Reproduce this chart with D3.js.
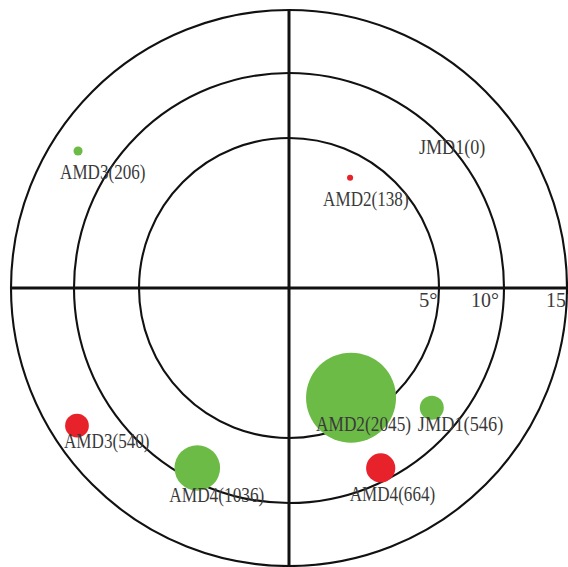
<!DOCTYPE html>
<html>
<head>
<meta charset="utf-8">
<script src="https://cdn.jsdelivr.net/npm/d3@7"></script>
<style>
html,body{margin:0;padding:0;background:#fff;}
svg{display:block;}
</style>
</head>
<body>
<svg id="chart" width="568" height="567"></svg>
<script>
// ---- data ----
const names    = ["AMD3","AMD2","JMD1","AMD2","JMD1","AMD3","AMD4","AMD4"];
const counts   = [206, 138, 0, 2045, 546, 540, 1036, 664];
const azimuths = [303, 29, 43, 150.5, 130, 237, 207, 153];   // degrees clockwise from north
const tilts    = [12.9, 4.2, 10.5, 4.2, 7.8, 13.0, 9.0, 9.0]; // degrees
const groups   = ["g","r","r","g","g","r","g","r"];
const ringTicks = [5, 10, 15];
const tickLabels = ["5°", "10°", "15°"];

// ---- layout (not data) ----
const labelDx = [-18, -27, -21, -35, -14, -13, -28, -31];
const labelDy = [28, 28, 28, 33, 23, 22, 34, 33];
const tickDx = [-20, -33, -21];

const cx = 289, cy = 288;
const svg = d3.select("#chart");
const g = svg.append("g").attr("transform", `translate(${cx},${cy})`);

const rScale = d3.scaleLinear().domain([0, 5, 10, 15]).range([0, 150, 215, 278]);
const sizeScale = d3.scaleLinear().domain([0, 2045]).range([0, 45]);
const color = d3.scaleOrdinal().domain(["g","r"]).range(["#6cbb46","#e8222a"]);

const rMax = rScale(15);
const FONT = "'Liberation Serif', 'DejaVu Serif', serif";
const VSCALE = 1.3;

// rings
g.selectAll("circle.ring").data(ringTicks).join("circle")
  .attr("class","ring")
  .attr("r", d => rScale(d))
  .attr("fill","none").attr("stroke","#111").attr("stroke-width",2.1);

// axes
g.append("line").attr("x1",-rMax).attr("x2",rMax+2).attr("y1",0).attr("y2",0)
  .attr("stroke","#111").attr("stroke-width",3);
g.append("line").attr("y1",-rMax).attr("y2",rMax+2).attr("x1",0).attr("x2",0)
  .attr("stroke","#111").attr("stroke-width",3);

// tick labels
g.selectAll("text.tick").data(ringTicks).join("text")
  .attr("class","tick")
  .attr("transform", (d,i) => `translate(${rScale(d) + tickDx[i]},19) scale(1,${VSCALE})`)
  .attr("font-family", FONT)
  .attr("font-size",16)
  .attr("fill","#3a3a3a")
  .attr("textLength",(d,i)=> tickLabels[i].length*9.3)
  .attr("lengthAdjust","spacingAndGlyphs")
  .text((d,i) => tickLabels[i]);

// points
const pts = names.map((n,i) => {
  const r = rScale(tilts[i]);
  const a = azimuths[i] * Math.PI/180;
  return {name:n, count:counts[i], grp:groups[i], i,
          x: r*Math.sin(a), y: -r*Math.cos(a)};
});

g.selectAll("circle.pt").data(pts).join("circle")
  .attr("class","pt")
  .attr("cx", d => d.x).attr("cy", d => d.y)
  .attr("r", d => sizeScale(d.count))
  .attr("fill", d => color(d.grp));

g.selectAll("text.lab").data(pts).join("text")
  .attr("class","lab")
  .attr("transform", d => `translate(${d.x + labelDx[d.i]},${d.y + labelDy[d.i]}) scale(1,${VSCALE})`)
  .attr("font-family", FONT)
  .attr("font-size",16)
  .attr("fill","#3a3a3a")
  .attr("textLength", d => (d.name + "(" + d.count + ")").length*9.5)
  .attr("lengthAdjust","spacingAndGlyphs")
  .text(d => d.name + "(" + d.count + ")");
</script>
</body>
</html>
